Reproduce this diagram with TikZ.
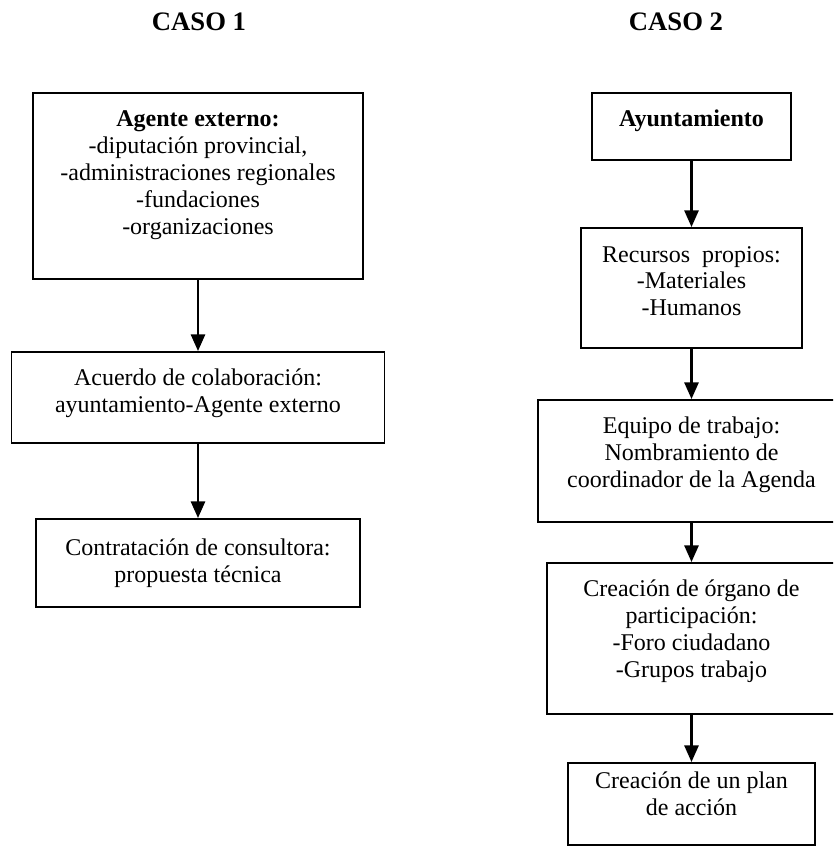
\documentclass[tikz,border=0pt]{standalone}
\usepackage{fontspec}
\setmainfont{Liberation Serif}
\usetikzlibrary{arrows.meta}
\newcommand{\bajo}[1]{\rule[-#1]{0pt}{#1}}
\tikzset{
  every picture/.style={font=\fontsize{18}{20.2}\selectfont, line width=1.4pt},
  caja/.style 2 args={draw, align=center, inner sep=0pt, minimum width=#1*0.75pt, minimum height=#2*0.75pt},
  flecha/.style={-{Triangle[length=12.5pt, width=10.5pt]}, line width=2pt},
  titulo/.style={font=\fontsize{20}{22}\selectfont\bfseries},
}

\begin{document}
\begin{tikzpicture}[x=0.75pt, y=-0.75pt]
  \useasboundingbox (0,0) rectangle (833,846);
  \clip (0,0) rectangle (833,846);
  \node[titulo] (caso1) at (199,22) {CASO 1};
  \node[titulo] (caso2) at (676,22) {CASO 2};
  % caso 1
  \node[caja={330}{186}] (agente) at (198,186) {\textbf{Agente externo:}\\-diputación provincial,\\-administraciones regionales\\-fundaciones\\-organizaciones\bajo{20pt}};
  \node[caja={373}{91}] (acuerdo) at (198,397.5) {Acuerdo de colaboración:\\ayuntamiento-Agente externo\bajo{10pt}};
  \node[caja={324}{88}] (consultora) at (198,563) {Contratación de consultora:\\propuesta técnica};
  \draw[flecha] (agente) -- (acuerdo);
  \draw[flecha] (acuerdo) -- (consultora);
  % caso 2
  \node[caja={199}{67}] (ayto) at (691.5,126.5) {\textbf{Ayuntamiento}\bajo{13pt}};
  \node[caja={221}{120}] (recursos) at (691.5,288) {Recursos\ \ propios:\\-Materiales\\-Humanos\bajo{10.5pt}};
  \node[caja={307}{122}] (equipo) at (691.5,461) {Equipo de trabajo:\\Nombramiento de\\coordinador de la Agenda\bajo{13pt}};
  \node[caja={289}{151}] (organo) at (691.5,638.5) {Creación de órgano de\\participación:\\-Foro ciudadano\\-Grupos trabajo\bajo{15pt}};
  \node[caja={247}{82}] (plan) at (691.5,804) {Creación de un plan\\de acción\bajo{15pt}};
  \draw[flecha] (ayto) -- (recursos);
  \draw[flecha] (recursos) -- (equipo);
  \draw[flecha] (equipo) -- (organo);
  \draw[flecha] (organo) -- (plan);
\end{tikzpicture}
\end{document}
